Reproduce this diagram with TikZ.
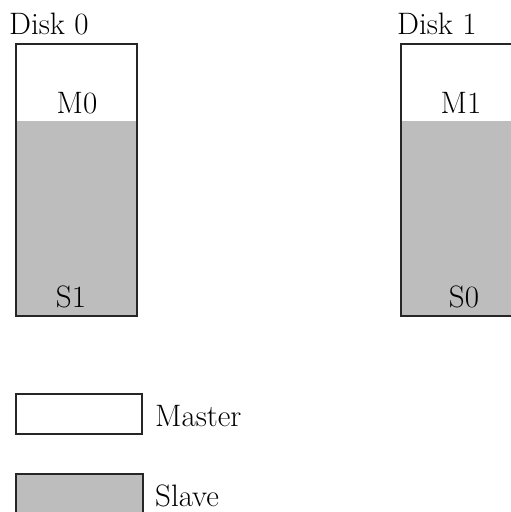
\documentclass[tikz,border=0pt]{standalone}
\begin{document}
\begin{tikzpicture}[x=1pt,y=-1pt,
  frame/.style={draw=black!85,line width=1.5pt},
  slavefill/.style={fill=black!26},
  lbl/.style={inner sep=0pt,anchor=base,font=\fontsize{31}{33}\selectfont},
  lbll/.style={lbl,anchor=base west}]
\useasboundingbox (0,0) rectangle (511,512);
\clip (0,0) rectangle (511,512);

% Disk 0
\fill[slavefill] (16,121) rectangle (137,316);
\draw[frame] (16,44) rectangle (137,316);
\node[lbll] (d0) at (9,34) {Disk 0};
\node[lbl] (m0) at (77,113) {M0};
\node[lbl] (s1) at (71,307) {S1};

% Disk 1
\fill[slavefill] (401,121) rectangle (522,316);
\draw[frame] (401,44) rectangle (522,316);
\node[lbll] (d1) at (397,34) {Disk 1};
\node[lbl] (m1) at (461,113) {M1};
\node[lbl] (s0) at (464,307) {S0};

% Legend
\draw[frame] (16,394) rectangle (142,434);
\node[lbll] (lm) at (155,426) {Master};
\fill[slavefill] (16,474) rectangle (143,514);
\draw[frame] (16,474) rectangle (143,514);
\node[lbll] (ls) at (155,506) {Slave};
\end{tikzpicture}
\end{document}
